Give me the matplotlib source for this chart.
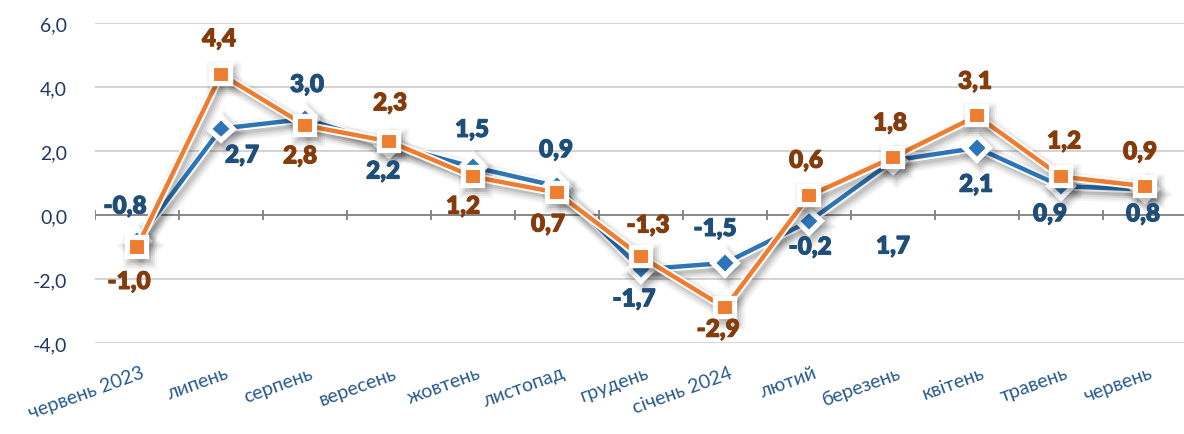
import matplotlib
matplotlib.use("Agg")
import matplotlib.pyplot as plt
import matplotlib.patheffects as pe
from matplotlib import font_manager as fm
from matplotlib.transforms import ScaledTranslation
import numpy as np

plt.rcParams['font.family'] = ['Lato', 'DejaVu Sans']

categories = ["червень 2023", "липень", "серпень", "вересень", "жовтень", "листопад",
              "грудень", "січень 2024", "лютий", "березень", "квітень", "травень", "червень"]
series_blue = [-0.8, 2.7, 3.0, 2.2, 1.5, 0.9, -1.7, -1.5, -0.2, 1.7, 2.1, 0.9, 0.8]
series_orange = [-1.0, 4.4, 2.8, 2.3, 1.2, 0.7, -1.3, -2.9, 0.6, 1.8, 3.1, 1.2, 0.9]
y_ticks = [-4.0, -2.0, 0.0, 2.0, 4.0, 6.0]

# label offsets in pixels (layout only)
blue_off = [(-12, 34), (21, -27), (2, 34), (-6, -27), (-1, 37), (-1, 36), (-7, -30),
            (-10, 34), (1, -26), (0, -86), (-1, -37), (-11, -28), (-2, -25)]
orange_off = [(-8, -35), (-2, 35), (-5, -31), (1, 38), (-10, -30), (-9, -32), (7, 31),
              (-7, -22), (-3, 35), (-3, 34), (-2, 34), (3, 35), (-5, 34)]


def find_font(name, weight, style='normal'):
    best = None
    for f in fm.fontManager.ttflist:
        if f.name == name and f.style == style:
            w = f.weight if isinstance(f.weight, int) else 400
            if best is None or abs(w - weight) < abs(best[0] - weight):
                best = (w, f.fname)
    return fm.FontProperties(fname=best[1]) if best else fm.FontProperties(family='DejaVu Sans', weight='bold')


bold_fp = find_font('Lato', 800)
bold_fp.set_size(17.5)

W, H = 1184, 435
fig = plt.figure(figsize=(W / 100, H / 100), dpi=100)
x_left, x_right = 95, 1187
y_top, y_bot = 24, 344
ax = fig.add_axes([x_left / W, (H - y_bot) / H, (x_right - x_left) / W, (y_bot - y_top) / H])
ax.set_xlim(-0.5, len(categories) - 0.5)
ax.set_ylim(-4, 6)

for s in ax.spines.values():
    s.set_visible(False)

for yv in y_ticks:
    if yv != 0:
        ax.axhline(yv, color='#D0D0D0', lw=1.3, zorder=0)
ax.axhline(0, color='#7F7F7F', lw=1.3, zorder=1)
bounds = np.arange(-0.5, len(categories) + 0.5, 1.0)
ax.vlines(bounds, -0.17, 0.17, color='#7F7F7F', lw=1.3, zorder=1)

x = np.arange(len(categories))
shadow = [pe.Stroke(offset=(2, -3), linewidth=w, foreground='black', alpha=a)
          for w, a in [(14, 0.04), (11, 0.05), (8, 0.07), (5, 0.09)]]
shadow += [pe.Stroke(linewidth=6, foreground='white'), pe.Normal()]
ax.plot(x, series_blue, color='#2E75B6', lw=3.2, marker='D', markersize=10,
        markeredgecolor='white', markeredgewidth=1.5, zorder=3, path_effects=shadow)
ax.plot(x, series_orange, color='#ED7D31', lw=3.2, marker='s', markersize=11,
        markeredgecolor='white', markeredgewidth=1.5, zorder=4, path_effects=shadow)

for xi, v, off in zip(x, series_blue, blue_off):
    ax.annotate(f"{v:.1f}".replace('.', ','), (xi, v), xytext=off, textcoords='offset pixels',
                ha='center', va='center', fontproperties=bold_fp, color='#1F4E79', zorder=6,
                path_effects=[pe.withStroke(linewidth=0.7, foreground='#1F4E79')])
for xi, v, off in zip(x, series_orange, orange_off):
    ax.annotate(f"{v:.1f}".replace('.', ','), (xi, v), xytext=off, textcoords='offset pixels',
                ha='center', va='center', fontproperties=bold_fp, color='#843C0C', zorder=6,
                path_effects=[pe.withStroke(linewidth=0.7, foreground='#843C0C')])

ax.set_yticks(y_ticks)
ax.set_yticklabels([f"{v:.1f}".replace('.', ',') for v in y_ticks], fontsize=14, color='#1F3864')
ax.tick_params(axis='y', length=0, pad=20)
ax.set_xticks(x)
ax.set_xticklabels(categories, rotation=20, ha='right', rotation_mode='anchor',
                   fontsize=14, color='#2A5A8C')
ax.tick_params(axis='x', length=0, pad=15)
for lbl in ax.get_xticklabels():
    lbl.set_transform(lbl.get_transform() + ScaledTranslation(0.04, 0, fig.dpi_scale_trans))

fig.savefig("out.png", dpi=100, facecolor='white')
